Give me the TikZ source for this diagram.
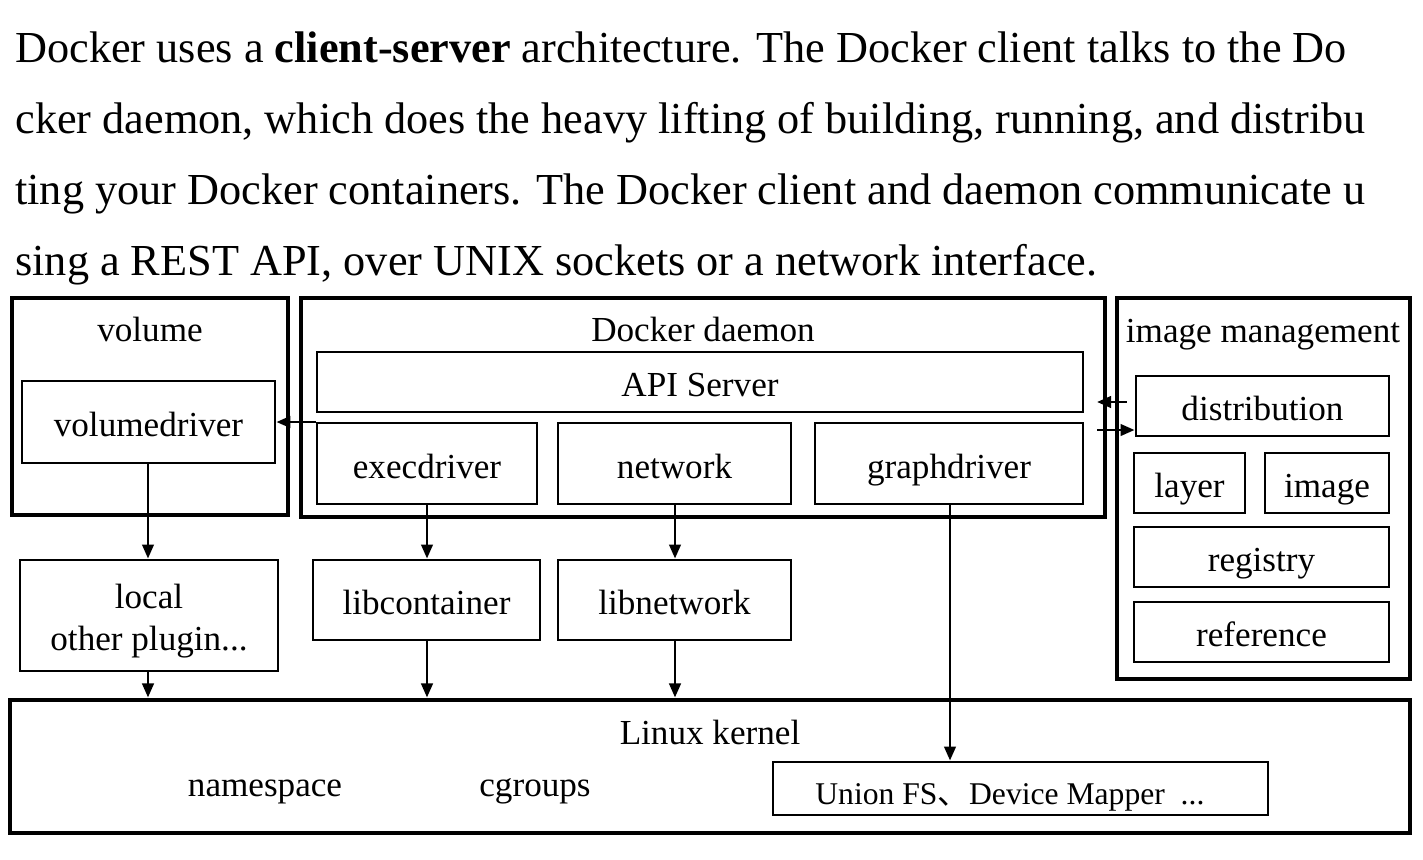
\documentclass[tikz,border=0pt]{standalone}
\usepackage{fontspec}
\setmainfont{Liberation Serif}
\newfontfamily\cjk{Noto Sans CJK SC}
\usetikzlibrary{arrows,arrows.meta}
\usetikzlibrary{fit}

\begin{document}
\begin{tikzpicture}[x=0.02cm, y=-0.02cm,
  box/.style={draw, line width=1.6pt, inner sep=0pt},
  outer/.style={draw, line width=2.8pt, inner sep=0pt},
  lbl/.style={inner sep=0pt, align=center, font=\fontsize{20}{24}\selectfont},
  one/.style={lbl, text height=18pt, text depth=1.2pt},
  title/.style={lbl, anchor=base},
  para/.style={anchor=base west, inner sep=0pt, font=\fontsize{25.2}{30}\selectfont},
  link/.style={line width=1.6pt, ->, >={Triangle[length=8pt,width=6.5pt]}}]
\useasboundingbox (0,0) rectangle (1423,859);

% text above the picture
\node[para] (l1) at (15,62) {Docker uses a \textbf{client-server} architecture. The Docker client talks to the Do};
\node[para] (l2) at (15,133) {cker daemon, which does the heavy lifting of building, running, and distribu};
\node[para] (l3) at (15,204) {ting your Docker containers. The Docker client and daemon communicate u};
\node[para] (l4) at (15,275) {sing a REST API, over UNIX sockets or a network interface.};

% outer boxes
\node[outer, fit={(12,298) (288,515)}] (volume) {};
\node[outer, fit={(301,298) (1105,517)}] (daemon) {};
\node[outer, fit={(1117,298) (1410,679)}] (imgmgmt) {};
\node[outer, fit={(10,700) (1410,833)}] (kernel) {};
\node[title] (voltitle) at (150,341) {volume};
\node[title] (daemontitle) at (703,341) {Docker daemon};
\node[title] (imgtitle) at (1263,342) {image management};
\node[title] (kerneltitle) at (710,744) {Linux kernel};
\node[title] (ns) at (265,796) {namespace};
\node[title] (cg) at (535,796) {cgroups};

% inner boxes
\node[box, fit={(22,381) (275,463)}, label={[one]center:volumedriver}] (vd) {};
\node[box, fit={(317,352) (1083,412)}, label={[one]center:API Server}] (api) {};
\node[box, fit={(317,423) (537,504)}, label={[one]center:execdriver}] (exec) {};
\node[box, fit={(558,423) (791,504)}, label={[one]center:network}] (net) {};
\node[box, fit={(815,423) (1083,504)}, label={[one]center:graphdriver}] (graph) {};
\node[box, fit={(1136,376) (1389,436)}, label={[one]center:distribution}] (dist) {};
\node[box, fit={(1134,453) (1245,513)}, label={[one]center:layer}] (layer) {};
\node[box, fit={(1265,453) (1389,513)}, label={[one]center:image}] (image) {};
\node[box, fit={(1134,527) (1389,587)}, label={[one]center:registry}] (registry) {};
\node[box, fit={(1134,602) (1389,662)}, label={[one]center:reference}] (reference) {};
\node[box, fit={(20,560) (278,671)}, label={[lbl, yshift=-3pt]center:{local\\other plugin...}}] (local) {};
\node[box, fit={(313,560) (540,640)}, label={[one]center:libcontainer}] (libc) {};
\node[box, fit={(558,560) (791,640)}, label={[one]center:libnetwork}] (libn) {};
\node[box, fit={(773,762) (1268,815)}] (ufs) {};
\node[lbl, anchor=base west, font=\fontsize{18}{20}\selectfont] (ufstext) at (815,804) {Union FS{\cjk 、}Device Mapper\ \ ...};

% connectors
\coordinate (dmin) at (1097,402);
\coordinate (dmout) at (1097,430);
\draw[link] (exec.west |- vd.east) -- (vd.east);
\draw[link] (dist.west |- dmin) ++(-8,0) -- (dmin);
\draw[link] (dmout) -- (dist.west |- dmout);
\draw[link] (vd.south -| 148,0) -- (local.north -| 148,0);
\draw[link] (local.south -| 148,0) -- (kernel.north -| 148,0);
\draw[link] (exec.south -| 427,0) -- (libc.north -| 427,0);
\draw[link] (libc.south -| 427,0) -- (kernel.north -| 427,0);
\draw[link] (net.south -| 675,0) -- (libn.north -| 675,0);
\draw[link] (libn.south -| 675,0) -- (kernel.north -| 675,0);
\draw[link] (graph.south -| 950,0) -- (ufs.north -| 950,0);
\end{tikzpicture}
\end{document}
